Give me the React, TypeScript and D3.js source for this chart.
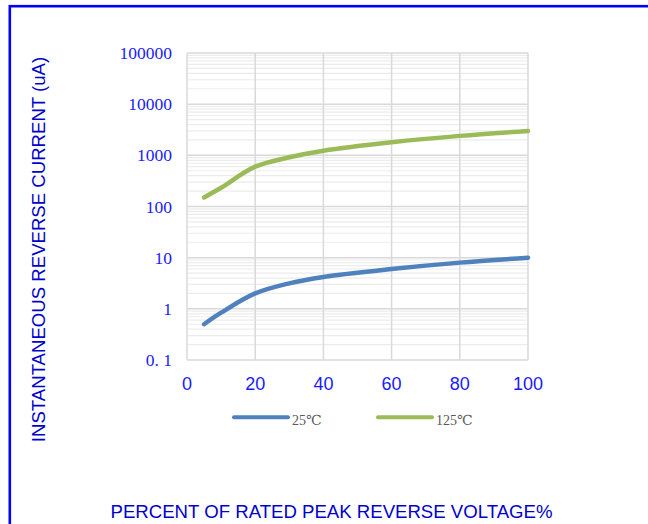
import React from "react";
import * as d3 from "d3";

const xTicks = [0, 20, 40, 60, 80, 100];
const yTicks = [0.1, 1, 10, 100, 1000, 10000, 100000];
const yTickLabels = ["0. 1", "1", "10", "100", "1000", "10000", "100000"];
const voltagePct = [5, 10, 20, 30, 40, 60, 80, 100];
const current25 = [0.5, 0.84, 2.0, 3.15, 4.2, 6.0, 8.0, 10];
const current125 = [150, 232, 600, 915, 1230, 1800, 2400, 3000];
const seriesNames = ["25\u2103", "125\u2103"];
const seriesColors = ["#4f81bd", "#9bbb59"];

export default function App() {
  const W = 648, H = 524;
  const left = 187, right = 528, top = 53, bottom = 360;
  const x = d3.scaleLinear().domain([0, 100]).range([left, right]);
  const y = d3.scaleLog().domain([0.1, 100000]).range([bottom, top]);
  const line = d3
    .line<number>()
    .x((_, i) => x(voltagePct[i]))
    .y((d) => y(d))
    .curve(d3.curveCatmullRom.alpha(0.5));

  const minor: number[] = [];
  for (let e = -1; e < 5; e++) {
    for (let k = 2; k <= 9; k++) minor.push(k * Math.pow(10, e));
  }
  const blue = "#1a1aff";
  const series = [current25, current125];

  return (
    <svg width={W} height={H} style={{ position: "absolute", left: 0, top: 0 }}>
      <rect x={0} y={0} width={W} height={H} fill="#fff" />
      <rect x={9.8} y={6.2} width={W + 20} height={H + 20} fill="none" stroke="#0000ff" strokeWidth={2.6} />
      {minor.map((v, i) => (
        <line key={"m" + i} x1={left} x2={right} y1={y(v)} y2={y(v)} stroke="#ececec" strokeWidth={1.2} />
      ))}
      {yTicks.map((v, i) => (
        <line key={"y" + i} x1={left} x2={right} y1={y(v)} y2={y(v)} stroke="#d9d9d9" strokeWidth={1.5} />
      ))}
      {xTicks.map((v, i) => (
        <line key={"x" + i} x1={x(v)} x2={x(v)} y1={top} y2={bottom} stroke="#d9d9d9" strokeWidth={1.5} />
      ))}
      {series.map((s, i) => (
        <path key={"s" + i} d={line(s) || ""} fill="none" stroke={seriesColors[i]} strokeWidth={4.5} strokeLinecap="round" strokeLinejoin="round" />
      ))}
      {yTicks.map((v, i) => (
        <text key={"yl" + i} x={172} y={y(v)} dy="0.35em" textAnchor="end" fill={blue}
          style={{ fontFamily: "'Liberation Serif', 'DejaVu Serif', serif", fontSize: 17.5 }}>
          {yTickLabels[i]}
        </text>
      ))}
      {xTicks.map((v, i) => (
        <text key={"xl" + i} x={x(v)} y={390} textAnchor="middle" fill={blue}
          style={{ fontFamily: "'Liberation Sans', Arial, sans-serif", fontSize: 18 }}>
          {v}
        </text>
      ))}
      {seriesNames.map((n, i) => {
        const lx = 234 + i * 144;
        return (
          <g key={"lg" + i}>
            <line x1={lx} x2={lx + 54} y1={417.3} y2={417.3} stroke={seriesColors[i]} strokeWidth={4} strokeLinecap="round" />
            <text x={lx + 58} y={425} fill="#595959"
              style={{ fontFamily: "'Liberation Serif', 'DejaVu Serif', serif", fontSize: 14 }}>
              {n}
            </text>
          </g>
        );
      })}
      <text transform="translate(44.5,249.5) rotate(-90)" textAnchor="middle" fill="#0000cc"
        style={{ fontFamily: "'Liberation Sans', Arial, sans-serif", fontSize: 18.6 }}>
        INSTANTANEOUS REVERSE CURRENT (uA)
      </text>
      <text x={331.5} y={518} textAnchor="middle" fill="#0000cc"
        style={{ fontFamily: "'Liberation Sans', Arial, sans-serif", fontSize: 18.6 }}>
        PERCENT OF RATED PEAK REVERSE VOLTAGE%
      </text>
    </svg>
  );
}
